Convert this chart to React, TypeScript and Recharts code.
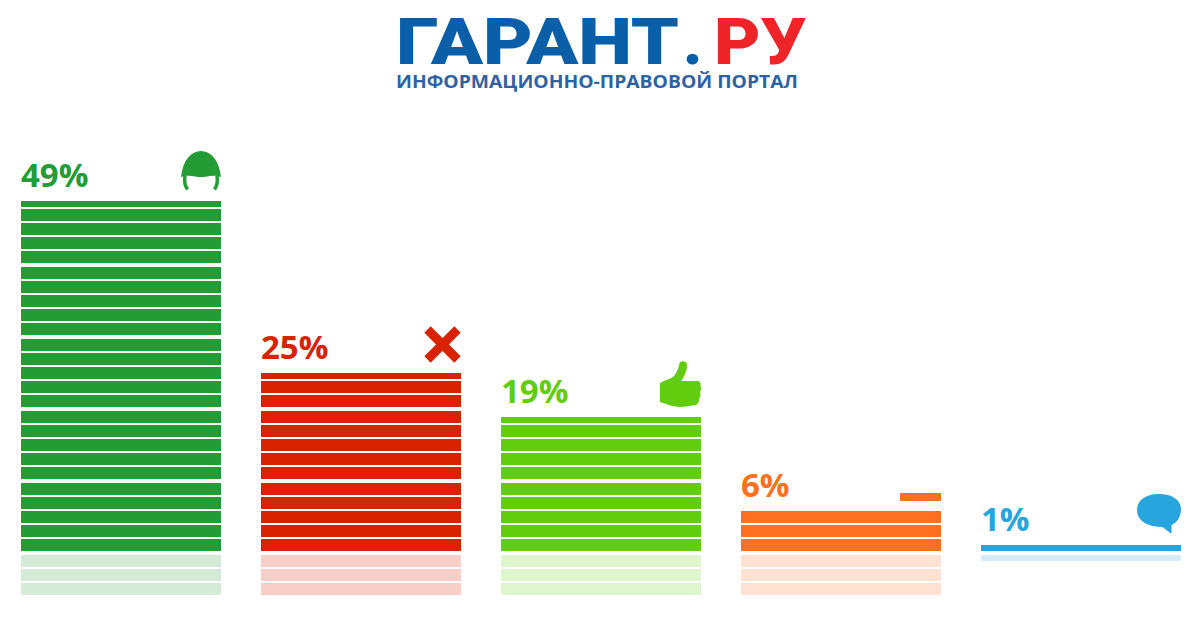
import { Bar, BarChart, LabelList, XAxis, YAxis } from "recharts";

const categories = ["helmet", "cross", "thumb", "minus", "bubble"];
const shares = [49, 25, 19, 6, 1];
const reflections = [-6, -6, -6, -6, -1];
const labels = ["49%", "25%", "19%", "6%", "1%"];
const colors = ["#239c36", "#d92200", "#62cd0f", "#ff7020", "#27a5de"];
const tints = ["#d5ebd8", "#f8cfc8", "#dff5cd", "#ffe2d2", "#d4edf9"];

const data = categories.map((name, i) => ({ name, share: shares[i], reflection: reflections[i] }));

// one stripe is 2%; a fifth gap is twice as wide
const PX_PER_PCT = 7.2;
const BASE_GAP = 2;

function stripes(value: number) {
  const out: { start: number; size: number }[] = [];
  const count = Math.abs(value) / 2;
  for (let i = 0; i < count; i++) {
    const size = count - i < 1 ? 6 : 12;
    out.push({ start: BASE_GAP + i * 14 + Math.floor(i / 5) * 2, size });
  }
  return out;
}

function topOf(value: number) {
  const last = stripes(value).at(-1)!;
  return last.start + last.size;
}

function StripedUp(props: any) {
  const { x, y, width, height, index } = props;
  const base = y + height;
  return (
    <g fill={colors[index]}>
      {stripes(shares[index]).map((s) => (
        <rect key={s.start} x={x} y={base - s.start - s.size} width={width} height={s.size} />
      ))}
    </g>
  );
}

function StripedDown(props: any) {
  const { x, y, width, height, index } = props;
  const base = Math.min(y, y + height);
  return (
    <g fill={tints[index]}>
      {stripes(reflections[index]).map((s) => (
        <rect key={s.start} x={x} y={base + s.start} width={width} height={s.size} />
      ))}
    </g>
  );
}

function Icon({ name, right, bottom, color }: { name: string; right: number; bottom: number; color: string }) {
  if (name === "helmet") {
    return (
      <g transform={`translate(${right - 40},${bottom - 40})`} fill={color}>
        <path d="M0,26 C2,9 10,0 20,0 C30,0 38,9 40,26 C32,23 26,26 20,26 C14,26 8,23 0,26 Z" />
        <path d="M4,25 C3,31 4,35 6.5,38.5 M36,25 C37,31 36,35 33.5,38.5" fill="none" stroke={color} strokeWidth={3.5} />
      </g>
    );
  }
  if (name === "cross") {
    return (
      <g transform={`translate(${right - 37},${bottom - 37})`}>
        <path d="M3.5,3.5 L33.5,33.5 M33.5,3.5 L3.5,33.5" fill="none" stroke={color} strokeWidth={9} />
      </g>
    );
  }
  if (name === "thumb") {
    return (
      <g transform={`translate(${right - 41},${bottom - 46})`} fill={color}>
        <path d="M0,22 C5,19 11,18 14,15 C18,10 19,5 19.5,2 C21,-0.5 26,-0.5 27,3 C27.5,8 25,14 21.5,20 L37,20 C40,20 41,22 40.5,25 C41.5,27 41,30 40,31 C41,33 40.5,36 39,38 C39.5,41 38,43 36,44 L22,46 C15,46 8,44 0,41 Z" />
      </g>
    );
  }
  if (name === "minus") {
    return <rect x={right - 41} y={bottom - 8} width={41} height={8} fill={color} />;
  }
  return (
    <g transform={`translate(${right - 44},${bottom - 41})`} fill={color}>
      <path d="M22,0 C35,0 44,6 44,15 C44,24 39,29 34.5,31 L34.5,40 L25.5,33 C11,33 0,27 0,16 C0,6 9,0 22,0 Z" />
    </g>
  );
}

function BarHead(props: any) {
  const { x, y, width, height, index } = props;
  const base = y + height;
  const top = base - topOf(shares[index]);
  return (
    <g>
      <text x={x} y={top - 14.5} fill={colors[index]} fontFamily="'Open Sans'" fontWeight={700} fontSize={33}>
        {labels[index]}
      </text>
      <Icon name={categories[index]} right={x + width} bottom={top - 10} color={colors[index]} />
    </g>
  );
}

export default function App() {
  return (
    <div style={{ position: "absolute", left: 0, top: 0, width: 1201, height: 630, background: "#fff" }}>
      <BarChart
        width={1201}
        height={630}
        data={data}
        stackOffset="sign"
        barCategoryGap={20}
        margin={{ left: 1, right: 0, top: 553 - 50 * PX_PER_PCT, bottom: 630 - 553 - 6 * PX_PER_PCT }}
      >
        <XAxis dataKey="name" hide />
        <YAxis type="number" domain={[-6, 50]} hide />
        <Bar dataKey="share" stackId="a" shape={StripedUp} isAnimationActive={false}>
          <LabelList dataKey="share" content={BarHead} />
        </Bar>
        <Bar dataKey="reflection" stackId="a" shape={StripedDown} isAnimationActive={false} />
        <text x={396} y={63.5} fill="#0b5ea8" fontFamily="Roboto" fontWeight={900} fontSize={64} textLength={283} lengthAdjust="spacingAndGlyphs">
          ГАРАНТ
        </text>
        <text x={683} y={63.5} fill="#0b5ea8" fontFamily="Roboto" fontWeight={900} fontSize={64}>
          .
        </text>
        <text x={714} y={63.5} fill="#ee2428" fontFamily="Roboto" fontWeight={900} fontSize={64} textLength={92} lengthAdjust="spacingAndGlyphs">
          РУ
        </text>
        <text x={396} y={88} fill="#2f62a3" fontFamily="'Open Sans'" fontWeight={700} fontSize={17} textLength={402} lengthAdjust="spacingAndGlyphs">
          ИНФОРМАЦИОННО-ПРАВОВОЙ ПОРТАЛ
        </text>
      </BarChart>
    </div>
  );
}
